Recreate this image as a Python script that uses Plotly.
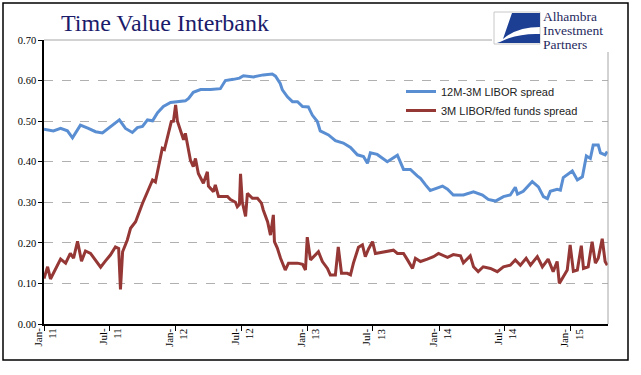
import plotly.graph_objects as go

# ---------------- data ----------------
libor12m3m_dates = [
    "2011-01-01", "2011-01-27", "2011-02-16", "2011-03-07", "2011-03-21", "2011-04-12",
    "2011-05-04", "2011-05-24", "2011-06-12", "2011-07-04", "2011-07-29", "2011-08-15",
    "2011-09-03", "2011-09-17", "2011-10-01", "2011-10-15", "2011-10-29", "2011-11-12",
    "2011-11-28", "2011-12-18", "2012-01-06", "2012-01-28", "2012-02-06", "2012-02-19",
    "2012-03-10", "2012-04-07", "2012-05-04", "2012-05-18", "2012-06-09", "2012-06-26",
    "2012-07-07", "2012-08-04", "2012-08-31", "2012-09-25", "2012-10-04", "2012-10-17",
    "2012-10-23", "2012-11-06", "2012-11-20", "2012-12-04", "2012-12-18", "2013-01-03",
    "2013-01-14", "2013-01-28", "2013-02-05", "2013-02-28", "2013-03-19", "2013-04-10",
    "2013-04-30", "2013-05-19", "2013-06-05", "2013-06-16", "2013-06-24", "2013-07-13",
    "2013-08-10", "2013-09-01", "2013-09-07", "2013-09-24", "2013-10-13", "2013-11-01",
    "2013-11-10", "2013-11-24", "2013-12-07", "2013-12-16", "2014-01-10", "2014-01-24",
    "2014-02-09", "2014-03-09", "2014-04-06", "2014-05-01", "2014-05-17", "2014-06-06",
    "2014-06-28", "2014-07-17", "2014-07-31", "2014-08-06", "2014-08-22", "2014-09-16",
    "2014-10-03", "2014-10-17", "2014-10-28", "2014-11-05", "2014-11-24", "2014-12-03",
    "2014-12-11", "2015-01-05", "2015-01-19", "2015-02-02", "2015-02-13", "2015-02-24",
    "2015-03-04", "2015-03-18", "2015-03-24", "2015-04-06", "2015-04-12",
]
libor12m3m_values = [
    0.480, 0.476, 0.482, 0.476, 0.459, 0.490,
    0.482, 0.474, 0.471, 0.487, 0.503, 0.482,
    0.472, 0.484, 0.487, 0.503, 0.501, 0.521,
    0.536, 0.546, 0.548, 0.550, 0.556, 0.571,
    0.578, 0.578, 0.580, 0.600, 0.603, 0.606,
    0.612, 0.609, 0.614, 0.616, 0.611, 0.593,
    0.577, 0.560, 0.548, 0.548, 0.536, 0.535,
    0.515, 0.499, 0.476, 0.466, 0.452, 0.446,
    0.435, 0.417, 0.413, 0.396, 0.422, 0.418,
    0.400, 0.412, 0.416, 0.381, 0.381, 0.365,
    0.359, 0.343, 0.329, 0.332, 0.340, 0.332,
    0.318, 0.318, 0.326, 0.318, 0.307, 0.303,
    0.314, 0.318, 0.337, 0.320, 0.327, 0.351,
    0.338, 0.314, 0.309, 0.327, 0.332, 0.330,
    0.361, 0.377, 0.355, 0.363, 0.414, 0.408,
    0.441, 0.441, 0.422, 0.417, 0.425,
]

fedfunds_dates = [
    "2011-01-01", "2011-01-11", "2011-01-19", "2011-02-02", "2011-02-16", "2011-03-02",
    "2011-03-15", "2011-03-24", "2011-04-04", "2011-04-15", "2011-04-26", "2011-05-10",
    "2011-05-24", "2011-06-07", "2011-06-20", "2011-07-04", "2011-07-18", "2011-07-27",
    "2011-08-01", "2011-08-07", "2011-08-20", "2011-08-29", "2011-09-12", "2011-09-20",
    "2011-10-01", "2011-10-15", "2011-10-29", "2011-11-06", "2011-11-14", "2011-11-25",
    "2011-12-01", "2011-12-09", "2011-12-20", "2011-12-26", "2012-01-01", "2012-01-06",
    "2012-01-14", "2012-01-23", "2012-01-28", "2012-02-03", "2012-02-11", "2012-02-19",
    "2012-02-25", "2012-03-04", "2012-03-18", "2012-03-29", "2012-04-01", "2012-04-15",
    "2012-04-20", "2012-04-29", "2012-05-24", "2012-06-01", "2012-06-15", "2012-06-20",
    "2012-06-26", "2012-06-29", "2012-07-04", "2012-07-13", "2012-07-18", "2012-08-01",
    "2012-08-15", "2012-08-26", "2012-08-31", "2012-09-12", "2012-09-20", "2012-09-28",
    "2012-10-01", "2012-10-09", "2012-10-18", "2012-10-31", "2012-11-09", "2012-12-04",
    "2012-12-18", "2012-12-26", "2012-12-31", "2013-01-09", "2013-01-23", "2013-01-31",
    "2013-02-11", "2013-02-25", "2013-03-05", "2013-03-19", "2013-03-27", "2013-04-05",
    "2013-04-21", "2013-04-30", "2013-05-08", "2013-05-22", "2013-06-02", "2013-06-10",
    "2013-06-19", "2013-06-30", "2013-07-08", "2013-07-30", "2013-08-27", "2013-09-07",
    "2013-09-24", "2013-10-05", "2013-10-19", "2013-10-27", "2013-11-10", "2013-11-29",
    "2013-12-16", "2013-12-30", "2014-01-24", "2014-02-09", "2014-03-01", "2014-03-09",
    "2014-03-28", "2014-04-06", "2014-04-19", "2014-05-03", "2014-05-23", "2014-06-11",
    "2014-06-28", "2014-07-17", "2014-07-31", "2014-08-14", "2014-08-30", "2014-09-11",
    "2014-09-30", "2014-10-14", "2014-10-30", "2014-11-13", "2014-11-24", "2014-11-30",
    "2014-12-11", "2014-12-22", "2014-12-30", "2015-01-08", "2015-01-19", "2015-01-30",
    "2015-02-05", "2015-02-18", "2015-03-01", "2015-03-10", "2015-03-18", "2015-03-29",
    "2015-04-06", "2015-04-12",
]
fedfunds_values = [
    0.112, 0.141, 0.111, 0.136, 0.160, 0.150,
    0.174, 0.162, 0.204, 0.155, 0.180, 0.174,
    0.158, 0.140, 0.155, 0.170, 0.190, 0.186,
    0.085, 0.178, 0.207, 0.236, 0.252, 0.273,
    0.297, 0.326, 0.355, 0.350, 0.388, 0.433,
    0.430, 0.462, 0.499, 0.500, 0.540, 0.500,
    0.478, 0.454, 0.470, 0.437, 0.404, 0.388,
    0.408, 0.371, 0.347, 0.375, 0.340, 0.326,
    0.343, 0.314, 0.314, 0.307, 0.300, 0.289,
    0.295, 0.370, 0.300, 0.265, 0.322, 0.310,
    0.310, 0.298, 0.281, 0.252, 0.219, 0.269,
    0.203, 0.187, 0.162, 0.133, 0.150, 0.150,
    0.147, 0.133, 0.214, 0.158, 0.170, 0.178,
    0.154, 0.137, 0.121, 0.121, 0.190, 0.125,
    0.125, 0.121, 0.150, 0.189, 0.195, 0.166,
    0.185, 0.203, 0.174, 0.178, 0.182, 0.174,
    0.174, 0.158, 0.137, 0.162, 0.154, 0.160,
    0.166, 0.174, 0.164, 0.171, 0.168, 0.151,
    0.168, 0.141, 0.129, 0.141, 0.137, 0.129,
    0.141, 0.145, 0.158, 0.145, 0.162, 0.145,
    0.166, 0.141, 0.160, 0.129, 0.154, 0.100,
    0.117, 0.133, 0.195, 0.130, 0.133, 0.193,
    0.137, 0.141, 0.203, 0.150, 0.162, 0.210,
    0.154, 0.145,
]

tick_dates = ["2011-01-01", "2011-07-01", "2012-01-01", "2012-07-01", "2013-01-01",
              "2013-07-01", "2014-01-01", "2014-07-01", "2015-01-01"]
tick_labels = ["Jan-<br>11", "Jul-<br>11", "Jan-<br>12", "Jul-<br>12", "Jan-<br>13",
               "Jul-<br>13", "Jan-<br>14", "Jul-<br>14", "Jan-<br>15"]
y_ticks = [0.0, 0.1, 0.2, 0.3, 0.4, 0.5, 0.6, 0.7]
y_tick_labels = ["0.00", "0.10", "0.20", "0.30", "0.40", "0.50", "0.60", "0.70"]

series_names = ["12M-3M LIBOR spread", "3M LIBOR/fed funds spread"]
title_text = "Time Value Interbank"
logo_lines = ["Alhambra", "Investment", "Partners"]

# ---------------- layout geometry ----------------
W, H = 641, 375
L, R, T, B = 44, 608, 40, 324


def px(x):
    return (x - L) / (R - L)


def py(y):
    return (B - y) / (B - T)


fig = go.Figure()
fig.add_trace(go.Scatter(x=libor12m3m_dates, y=libor12m3m_values, mode="lines",
                         name=series_names[0],
                         line=dict(color="#5a8ed3", width=3)))
fig.add_trace(go.Scatter(x=fedfunds_dates, y=fedfunds_values, mode="lines",
                         name=series_names[1],
                         line=dict(color="#953735", width=3)))

serif = "Liberation Serif, Times New Roman, serif"
sans = "Liberation Sans, Arial, sans-serif"

fig.update_layout(
    width=W, height=H,
    margin=dict(l=L, r=W - R, t=T, b=H - B, pad=0, autoexpand=False),
    paper_bgcolor="white", plot_bgcolor="white",
    showlegend=True,
    legend=dict(x=px(401), y=py(77), xanchor="left", yanchor="top",
                font=dict(family=sans, size=11, color="#222"),
                bgcolor="rgba(0,0,0,0)", itemwidth=30, tracegroupgap=0,
                borderwidth=0),
    xaxis=dict(type="date", range=["2011-01-01", "2015-04-14"], automargin=False,
               tickmode="array", tickvals=tick_dates, showticklabels=False,
               ticks="outside", ticklen=5, tickcolor="black",
               showgrid=False, showline=True, linecolor="black", linewidth=1.5,
               zeroline=False),
    yaxis=dict(range=[0, 0.7], tickmode="array", tickvals=y_ticks, automargin=False,
               ticktext=y_tick_labels, ticks="outside", ticklen=4,
               tickcolor="black",
               tickfont=dict(family=serif, size=10.5, color="black"),
               showgrid=True, gridcolor="#b0b0b0", griddash="dash", gridwidth=1,
               showline=True, linecolor="black", linewidth=1.5, zeroline=False),
)

shapes = []
# plot frame: solid top line and grey right line
shapes.append(dict(type="line", xref="paper", yref="paper", x0=0, x1=1, y0=1, y1=1,
                   line=dict(color="#a6a6a6", width=1)))
shapes.append(dict(type="line", xref="paper", yref="paper", x0=1, x1=1, y0=0, y1=1,
                   line=dict(color="#a6a6a6", width=1)))
# white logo box covering frame corner
shapes.append(dict(type="rect", xref="paper", yref="paper",
                   x0=px(492), x1=px(626), y0=py(52), y1=py(5),
                   fillcolor="white", line=dict(width=0), layer="above"))
# logo mark
shapes.append(dict(type="rect", xref="paper", yref="paper",
                   x0=px(494), x1=px(540), y0=py(44), y1=py(12),
                   fillcolor="white", line=dict(color="#c8c8c8", width=1), layer="above"))


def path_px(points):
    s = ""
    for cmd, coords in points:
        s += cmd + " " + " ".join(
            f"{px(coords[i]):.4f},{py(coords[i + 1]):.4f}" for i in range(0, len(coords), 2)) + " "
    return s + "Z"


shapes.append(dict(type="path", xref="paper", yref="paper", layer="above",
                   path=path_px([("M", (512, 13)), ("L", (540, 13)), ("L", (540, 27)),
                                 ("Q", (517, 27, 503, 39))]),
                   fillcolor="#1c3f94", line=dict(width=0)))
shapes.append(dict(type="path", xref="paper", yref="paper", layer="above",
                   path=path_px([("M", (500, 42)), ("Q", (518, 33, 540, 34)),
                                 ("L", (540, 43)), ("L", (497, 43))]),
                   fillcolor="#1c3f94", line=dict(width=0)))
# outer border
shapes.append(dict(type="rect", xref="paper", yref="paper",
                   x0=px(3), x1=px(628), y0=py(360), y1=py(3),
                   line=dict(color="black", width=1.5), fillcolor="rgba(0,0,0,0)",
                   layer="above"))
fig.update_layout(shapes=shapes)

annotations = [dict(text=title_text, xref="paper", yref="paper", x=px(59), y=py(23),
                    xanchor="left", yanchor="middle", showarrow=False,
                    font=dict(family=serif, size=24, color="#1b1b6b"))]
for i, line in enumerate(logo_lines):
    annotations.append(dict(text=line, xref="paper", yref="paper", x=px(542),
                            y=py(16.5 + 14 * i), xanchor="left", yanchor="middle",
                            showarrow=False, borderpad=0,
                            font=dict(family=serif, size=13.5, color="#1f2a5e")))
# rotated two-line date labels under the ticks (Excel style)
for d, lab in zip(tick_dates, tick_labels):
    annotations.append(dict(text=lab, xref="x", yref="paper", x=d, y=py(327),
                            xanchor="center", yanchor="top", textangle=-90,
                            align="right", showarrow=False, borderpad=0,
                            font=dict(family=serif, size=11, color="black")))
fig.update_layout(annotations=annotations)

# remove the default page margin so the figure sits at the window's top-left corner
fig.write_html("out.html", config={"displayModeBar": False},
               post_script="document.body.style.margin='0';document.body.style.padding='0';")
